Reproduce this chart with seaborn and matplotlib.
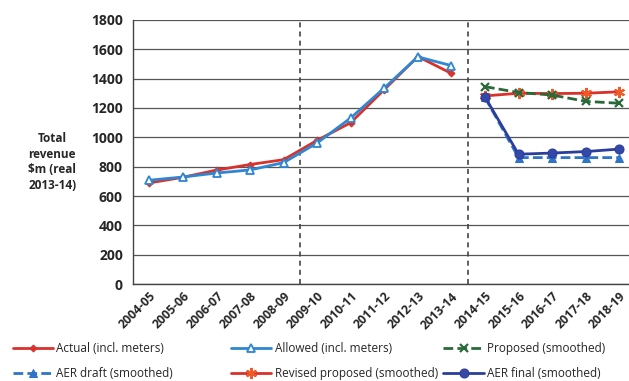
import matplotlib
matplotlib.use("Agg")
import matplotlib.pyplot as plt
import seaborn as sns
import numpy as np
import pandas as pd

years = ["2004-05", "2005-06", "2006-07", "2007-08", "2008-09", "2009-10",
         "2010-11", "2011-12", "2012-13", "2013-14", "2014-15", "2015-16",
         "2016-17", "2017-18", "2018-19"]

actual = [690, 728, 777, 815, 848, 980, 1100, 1325, 1550, 1435]
allowed = [708, 730, 757, 778, 828, 962, 1132, 1336, 1548, 1488]
proposed = [1345, 1305, 1288, 1245, 1232]
revised_proposed = [1282, 1300, 1298, 1300, 1310]
aer_draft = [1272, 862, 862, 862, 862]
aer_final = [1275, 885, 893, 903, 920]

sns.set_theme(style="white")
plt.rcParams["font.family"] = ["Open Sans", "DejaVu Sans"]

fig = plt.figure(figsize=(6.29, 3.81), dpi=100)
ax = fig.add_axes([0.211, 0.254, 0.80, 0.694])

hist_x = np.arange(len(actual))
fc_x = np.arange(10, 10 + len(proposed))

series = [
    ("Actual (incl. meters)", hist_x, actual, dict(color="#d9312b", marker="D", markersize=3.5, linestyle="-", markerfacecolor="#d9312b", markeredgecolor="#d9312b")),
    ("AER draft (smoothed)", fc_x, aer_draft, dict(color="#2f74c8", marker="^", markersize=6, linestyle=(0, (3.5, 1.5)), markerfacecolor="#2f74c8", markeredgecolor="#2f74c8")),
    ("Allowed (incl. meters)", hist_x, allowed, dict(color="#2f86d1", marker="^", markersize=6, linestyle="-", markerfacecolor="white", markeredgecolor="#2f86d1", markeredgewidth=1.3)),
    ("Revised proposed (smoothed)", fc_x, revised_proposed, dict(color="#d9312b", marker=(6, 2, 0), markersize=8, linestyle="-", markeredgecolor="#f05a28", markeredgewidth=1.5)),
    ("Proposed (smoothed)", fc_x, proposed, dict(color="#2a6a3a", marker="x", markersize=6, linestyle=(0, (3.5, 1.5)), markeredgecolor="#2a6a3a", markeredgewidth=1.6)),
    ("AER final (smoothed)", fc_x, aer_final, dict(color="#2b3e9c", marker="o", markersize=6.5, linestyle="-", markerfacecolor="#3548a8", markeredgecolor="#2b3e9c")),
]

handles = []
for label, xs, ys, style in series:
    df = pd.DataFrame({"period": xs, "revenue": ys})
    sns.lineplot(data=df, x="period", y="revenue", ax=ax, linewidth=2.0, label=label, **style)
    handles.append(ax.get_lines()[-1])

ax.set_xlim(-0.5, 14.5)
ax.set_ylim(0, 1800)
ax.set_yticks(np.arange(0, 1801, 200))
ax.set_xticks(np.arange(len(years)))
ax.set_xticklabels(years, rotation=45, ha="right", rotation_mode="anchor", fontsize=8.8)
ax.set_xticks(np.arange(-0.5, 15, 1), minor=True)
ax.tick_params(axis="x", which="major", length=0, pad=4)
ax.tick_params(axis="x", which="minor", length=3, color="#444444", direction="out", width=1)
ax.tick_params(axis="y", labelsize=10, length=0, pad=7)
for t in ax.get_yticklabels() + ax.get_xticklabels():
    t.set_fontweight("bold")

ax.grid(axis="y", color="#555555", linewidth=0.9, linestyle="-")
for xv in (4.5, 9.5):
    ax.axvline(xv, color="#444444", linestyle=(0, (3, 2.5)), linewidth=1.2, zorder=1)

for side in ("top", "right"):
    ax.spines[side].set_visible(False)
ax.spines["left"].set_color("#444444")
ax.spines["bottom"].set_color("#444444")
ax.spines["left"].set_linewidth(1.0)
ax.spines["bottom"].set_linewidth(1.0)
ax.set_xlabel("")
ax.set_ylabel("")

fig.text(0.083, 0.575, "Total\nrevenue\n$m (real\n2013-14)", ha="center", va="center",
         fontsize=8.5, fontweight="bold", linespacing=1.25)

ax.get_legend().remove()
# three legend columns, placed individually
col_x = [0.005, 0.352, 0.69]
for i, x0 in enumerate(col_x):
    pair = [2 * i, 2 * i + 1]
    fig.legend(handles=[handles[j] for j in pair], labels=[series[j][0] for j in pair],
               loc="lower left", bbox_to_anchor=(x0, -0.022), frameon=False,
               handlelength=3.4, handletextpad=0.3, labelspacing=1.0,
               borderpad=0.3, prop={"size": 8.5})

fig.savefig("out.png", dpi=100)
